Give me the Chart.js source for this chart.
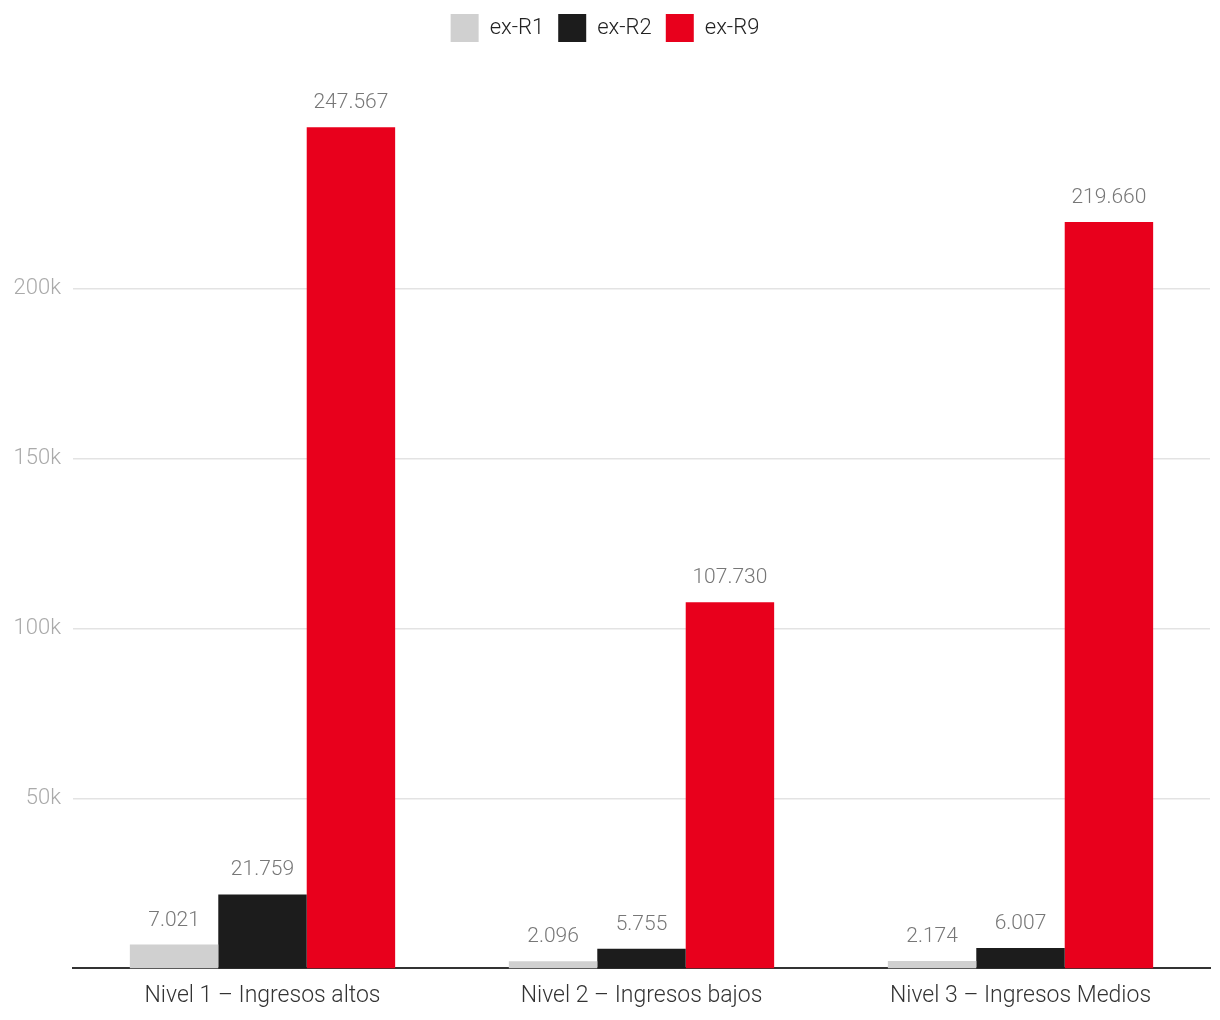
<!DOCTYPE html>
<html><head><meta charset="utf-8">
<script src="https://cdn.jsdelivr.net/npm/chart.js@4/dist/chart.umd.min.js"></script>
<style>html,body{margin:0;padding:0;background:#fff}#wrap{width:1220px;height:1020px}</style>
</head><body><div id="wrap"><canvas id="c" width="1220" height="1020"></canvas></div>
<script>
const categories = ["Nivel 1 – Ingresos altos", "Nivel 2 – Ingresos bajos", "Nivel 3 – Ingresos Medios"];
const seriesNames = ["ex-R1", "ex-R2", "ex-R9"];
const exR1 = [7021, 2096, 2174];
const exR2 = [21759, 5755, 6007];
const exR9 = [247567, 107730, 219660];
const yTicks = [50000, 100000, 150000, 200000];
const yTickLabels = ["50k", "100k", "150k", "200k"];
const colors = ["#d0d0d0", "#1c1c1c", "#e8001c"];
const FONT = "Roboto, 'Liberation Sans', sans-serif";

const fmt = v => v.toString().replace(/\B(?=(\d{3})+(?!\d))/g, ".");

const labelPlugin = {
  id: 'barLabels',
  afterDatasetsDraw(chart) {
    const ctx = chart.ctx;
    ctx.save();
    ctx.font = "300 21px " + FONT;
    ctx.fillStyle = "#777";
    ctx.textAlign = "center";
    ctx.textBaseline = "alphabetic";
    chart.data.datasets.forEach((ds, i) => {
      const meta = chart.getDatasetMeta(i);
      meta.data.forEach((bar, j) => {
        ctx.fillText(fmt(ds.data[j]), bar.x, bar.y - 19);
      });
    });
    ctx.restore();
  }
};

new Chart(document.getElementById('c'), {
  type: 'bar',
  data: {
    labels: categories,
    datasets: [
      {label: seriesNames[0], data: exR1, backgroundColor: colors[0]},
      {label: seriesNames[1], data: exR2, backgroundColor: colors[1]},
      {label: seriesNames[2], data: exR9, backgroundColor: colors[2]}
    ]
  },
  options: {
    responsive: false,
    animation: false,
    devicePixelRatio: 1,
    layout: {padding: {left: 0, right: 10, top: 0, bottom: -4}},
    datasets: {bar: {categoryPercentage: 0.7, barPercentage: 1.0}},
    plugins: {
      legend: {
        position: 'top',
        labels: {
          boxWidth: 28, boxHeight: 28, padding: 14,
          color: "#222",
          font: {family: FONT, size: 22, weight: 300}
        }
      },
      tooltip: {enabled: false}
    },
    scales: {
      x: {
        grid: {display: false, drawTicks: false},
        border: {display: true, color: "#333", width: 2},
        ticks: {color: "#333", padding: 14, font: {family: FONT, size: 23, weight: 300}}
      },
      y: {
        min: 0, max: 269700,
        afterBuildTicks(scale) { scale.ticks = yTicks.map(v => ({value: v})); },
        afterFit(scale) { scale.width = 73; },
        grid: {color: "#e3e3e3", lineWidth: 1.5, drawTicks: false},
        border: {display: false},
        ticks: {
          color: "#aaa", padding: 12,
          font: {family: FONT, size: 22, weight: 300},
          callback: (v) => { const k = yTicks.indexOf(v); return k >= 0 ? yTickLabels[k] : ''; }
        }
      }
    }
  },
  plugins: [labelPlugin]
});
</script></body></html>
